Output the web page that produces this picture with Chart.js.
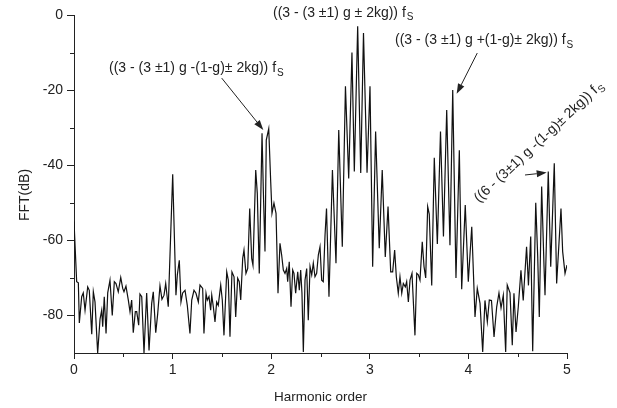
<!DOCTYPE html>
<html>
<head>
<meta charset="utf-8">
<script src="https://cdn.jsdelivr.net/npm/chart.js"></script>
<style>
  body { margin: 0; background: #fff; }
</style>
</head>
<body>
<canvas id="grafica" width="617" height="408"></canvas>
<script>
const harmonic = [
  0.000,0.027,0.044,0.054,0.078,0.094,0.112,0.139,0.155,0.180,
  0.196,0.213,0.240,0.264,0.281,0.291,0.307,0.325,0.342,0.365,
  0.388,0.409,0.426,0.449,0.474,0.494,0.507,0.527,0.551,0.568,
  0.585,0.601,0.622,0.636,0.656,0.669,0.687,0.710,0.737,0.761,
  0.788,0.804,0.829,0.849,0.872,0.892,0.913,0.930,0.956,1.001,
  1.034,1.048,1.068,1.085,1.102,1.126,1.149,1.176,1.194,1.217,
  1.237,1.261,1.278,1.305,1.318,1.339,1.352,1.369,1.386,1.397,
  1.413,1.430,1.447,1.463,1.488,1.504,1.521,1.549,1.565,1.582,
  1.602,1.623,1.640,1.660,1.676,1.691,1.711,1.724,1.744,1.762,
  1.782,1.802,1.815,1.843,1.859,1.879,1.907,1.920,1.937,1.950,
  1.975,1.995,2.008,2.028,2.049,2.069,2.089,2.106,2.123,2.140,
  2.157,2.167,2.183,2.201,2.218,2.231,2.248,2.269,2.285,2.299,
  2.312,2.326,2.343,2.360,2.376,2.394,2.411,2.427,2.444,2.461,
  2.478,2.495,2.512,2.528,2.546,2.561,2.586,2.621,2.657,2.685,
  2.721,2.753,2.786,2.819,2.843,2.877,2.908,2.936,2.972,3.002,
  3.029,3.059,3.096,3.126,3.157,3.185,3.212,3.232,3.252,3.269,
  3.289,3.306,3.324,3.340,3.360,3.374,3.391,3.408,3.428,3.458,
  3.476,3.492,3.509,3.532,3.550,3.567,3.587,3.603,3.628,3.654,
  3.685,3.717,3.747,3.780,3.813,3.841,3.874,3.908,3.932,3.968,
  3.999,4.034,4.067,4.090,4.118,4.145,4.168,4.192,4.212,4.234,
  4.260,4.287,4.310,4.331,4.354,4.378,4.394,4.422,4.445,4.462,
  4.483,4.506,4.533,4.556,4.590,4.609,4.632,4.652,4.683,4.703,
  4.719,4.743,4.767,4.777,4.810,4.835,4.871,4.895,4.939,4.956,
  4.980,5.000
];
const fftDb = [
  -55,-71,-71.3,-82,-75,-74,-78.6,-72.4,-73.3,-85,
  -73.7,-76.4,-90,-81,-78.6,-83,-75,-84.8,-74,-70.6,
  -80,-71,-71.5,-73.7,-69.9,-72.8,-73.7,-72.2,-75.9,-79,
  -75.9,-84.6,-79,-79,-82.6,-74.3,-75,-90,-74,-89.3,
  -76.8,-73.7,-84.6,-79.5,-72.1,-75.7,-74.6,-71.5,-77.7,-42.4,
  -74.6,-69.2,-65.3,-76.4,-74,-73.3,-77.3,-84.8,-75.9,-73.3,
  -74.1,-76.4,-71.9,-72.8,-84.8,-74.1,-75.9,-75,-78.6,-74.6,
  -77.7,-81.7,-76.4,-77.3,-71.9,-75.9,-85.3,-68.4,-70.6,-85.7,
  -68.4,-69.7,-80.4,-70.1,-71,-75.9,-64.8,-62.6,-68.8,-67.5,
  -51.5,-64.8,-66.6,-41.3,-47.5,-68.8,-31.5,-46.6,-63,-33.3,
  -30.3,-44.4,-52.8,-50.1,-52.8,-74.1,-60.8,-63.9,-67.9,-68.8,
  -67.5,-71,-65.7,-77.7,-67.9,-68.8,-74.1,-68.4,-73.3,-67.9,
  -74.1,-89.7,-70.6,-67.5,-81.3,-67,-69.2,-66.1,-69.7,-68.8,
  -63.9,-61.7,-70.6,-71,-58.6,-51.5,-75,-41.3,-66.1,-30.6,
  -61.7,-19,-43.5,-10,-41.7,-3,-42.1,-4.8,-42,-19,
  -67,-31,-62.1,-41.3,-64.4,-51,-68.4,-68.4,-62.6,-69.7,
  -74.1,-69.7,-74.1,-71.5,-72.4,-71,-76.4,-70.6,-68.8,-85.3,
  -68.8,-69.2,-70.6,-60.4,-67,-70,-51,-53,-72,-38,
  -61,-31,-59,-25.3,-61.3,-20,-70,-36,-73,-50.6,
  -71,-56.4,-80.4,-72.8,-76.8,-89.7,-76,-81.7,-75.9,-76,
  -85.7,-77.7,-74,-78,-74.6,-89.7,-71.9,-74,-87.9,-74.1,
  -84.4,-77.7,-68,-76,-61.7,-72,-59,-89.5,-50,-64.4,
  -80.4,-45.7,-67,-74.6,-41.7,-67,-39.5,-71.5,-51.5,-63,
  -68.8,-66.6
];

// Marcas de los ejes
const xTicks = [0, 1, 2, 3, 4, 5];
const yTicks = [-80, -60, -40, -20, 0];
const xMinor = [0.5, 1.5, 2.5, 3.5, 4.5];
const yMinor = [-70, -50, -30, -10];

// Textos de las anotaciones (posicion en unidades de los ejes)
const notas = [
  { texto: '((3 - (3 \u00b11) g \u00b1 2kg)) f', sub: 'S', x: 2.018, y: -0.53, ang: 0 },
  { texto: '((3 - (3 \u00b11) g -(1-g)\u00b1 2kg)) f', sub: 'S', x: 0.355, y: -15.25, ang: 0 },
  { texto: '((3 - (3 \u00b11) g +(1-g)\u00b1 2kg)) f', sub: 'S', x: 3.256, y: -7.73, ang: 0 },
  { texto: '((6 - (3\u00b11) g -(1-g)\u00b1 2kg)) f', sub: 'S', x: 4.107, y: -50.05, ang: -43 }
];
const flechas = [
  { desde: [1.498, -16.8], hasta: [1.920, -30.6] },
  { desde: [4.090, -10.13], hasta: [3.881, -20.99] },
  { desde: [4.574, -42.6], hasta: [4.794, -41.97] }
];

const fuente = '"Liberation Sans", Arial, sans-serif';
const tinta = '#222';

// Dibuja marcas menores, titulos de ejes y anotaciones
const extras = {
  id: 'extras',
  afterDraw(chart) {
    const { ctx, chartArea: a, scales: { x, y } } = chart;
    ctx.save();
    ctx.strokeStyle = tinta;
    ctx.fillStyle = tinta;
    ctx.lineWidth = 1;

    ctx.beginPath();
    xMinor.forEach(v => {
      const px = Math.round(x.getPixelForValue(v)) + 0.5;
      ctx.moveTo(px, a.bottom);
      ctx.lineTo(px, a.bottom + 4);
    });
    yMinor.forEach(v => {
      const py = Math.round(y.getPixelForValue(v)) + 0.5;
      ctx.moveTo(a.left, py);
      ctx.lineTo(a.left - 4, py);
    });
    ctx.stroke();

    // titulos
    ctx.font = '13.5px ' + fuente;
    ctx.textAlign = 'center';
    ctx.textBaseline = 'middle';
    ctx.fillText('Harmonic order', (a.left + a.right) / 2, a.bottom + 44.5);
    ctx.save();
    ctx.translate(25, (a.top + a.bottom) / 2 + 11);
    ctx.rotate(-Math.PI / 2);
    ctx.font = '14px ' + fuente;
    ctx.fillText('FFT(dB)', 0, 0);
    ctx.restore();

    // anotaciones
    ctx.textAlign = 'left';
    ctx.textBaseline = 'alphabetic';
    notas.forEach(n => {
      ctx.save();
      ctx.translate(x.getPixelForValue(n.x), y.getPixelForValue(n.y));
      ctx.rotate(n.ang * Math.PI / 180);
      ctx.font = '14px ' + fuente;
      ctx.fillText(n.texto, 0, 0);
      const w = ctx.measureText(n.texto).width;
      ctx.font = '10px ' + fuente;
      ctx.fillText(n.sub, w + 1, 3.5);
      ctx.restore();
    });

    // flechas
    flechas.forEach(f => {
      const x0 = x.getPixelForValue(f.desde[0]), y0 = y.getPixelForValue(f.desde[1]);
      const x1 = x.getPixelForValue(f.hasta[0]), y1 = y.getPixelForValue(f.hasta[1]);
      const ang = Math.atan2(y1 - y0, x1 - x0);
      const largo = 10, ancho = 3.5;
      const bx = x1 - largo * Math.cos(ang), by = y1 - largo * Math.sin(ang);
      ctx.beginPath();
      ctx.moveTo(x0, y0);
      ctx.lineTo(bx, by);
      ctx.stroke();
      ctx.beginPath();
      ctx.moveTo(x1, y1);
      ctx.lineTo(bx + ancho * Math.sin(ang), by - ancho * Math.cos(ang));
      ctx.lineTo(bx - ancho * Math.sin(ang), by + ancho * Math.cos(ang));
      ctx.closePath();
      ctx.fill();
    });
    ctx.restore();
  }
};

const puntos = harmonic.map((h, i) => ({ x: h, y: fftDb[i] }));

new Chart(document.getElementById('grafica'), {
  type: 'line',
  data: {
    datasets: [{
      data: puntos,
      borderColor: '#111',
      borderWidth: 1.2,
      pointRadius: 0,
      tension: 0,
      fill: false
    }]
  },
  options: {
    responsive: false,
    animation: false,
    layout: { padding: { left: 0, top: 15, right: 50, bottom: 0 } },
    plugins: { legend: { display: false }, tooltip: { enabled: false } },
    scales: {
      x: {
        type: 'linear',
        min: 0,
        max: 5,
        afterBuildTicks: s => { s.ticks = xTicks.map(v => ({ value: v })); },
        afterFit: s => { s.height = 55; s.paddingLeft = 0; s.paddingRight = 0; },
        border: { display: true, color: tinta, width: 1 },
        grid: { drawOnChartArea: false, drawTicks: true, tickLength: 6, color: tinta, tickColor: tinta },
        ticks: { font: { family: fuente, size: 14 }, color: tinta, padding: 3, maxRotation: 0, autoSkip: false }
      },
      y: {
        min: -90,
        max: 0,
        afterBuildTicks: s => { s.ticks = yTicks.map(v => ({ value: v })); },
        afterFit: s => { s.width = 74; s.paddingTop = 0; s.paddingBottom = 0; },
        border: { display: true, color: tinta, width: 1 },
        grid: { drawOnChartArea: false, drawTicks: true, tickLength: 7, color: tinta, tickColor: tinta },
        ticks: { font: { family: fuente, size: 14 }, color: tinta, padding: 4, autoSkip: false }
      }
    }
  },
  plugins: [extras]
});
</script>
</body>
</html>
